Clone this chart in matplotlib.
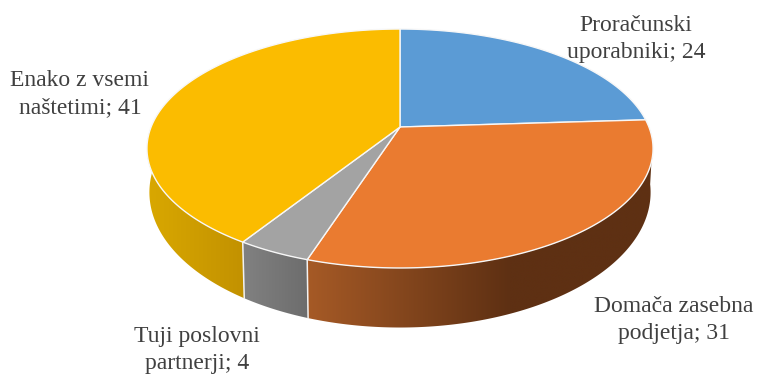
import numpy as np
import matplotlib
matplotlib.use("Agg")
import matplotlib.pyplot as plt
from matplotlib.colors import to_rgb
from matplotlib.patches import Polygon

# slices, clockwise from 12 o'clock
categories = ['Proračunski\nuporabniki', 'Domača zasebna\npodjetja', 'Tuji poslovni\npartnerji', 'Enako z vsemi\nnaštetimi']
values = [24, 31, 4, 41]
top_colors = ['#5b9bd5', '#ea7b30', '#a3a3a3', '#fbbc00']
# side wall shading: colour at the left end, colour at the right end, x where the ramp stops
wall_colors = [('#3f6e99', '#3f6e99', 660), ('#a65a26', '#5e3013', 510), ('#818181', '#6c6c6c', 310), ('#d9a800', '#c29100', 245)]
label_pos = [(636, 39), (674, 320), (197, 350), (80, 94)]

# pie geometry in pixels, K is the perspective strength
CX, CY = 400, 127
A, B, K = 248.9, 115.6, 0.18
BOTTOM_CY, BOTTOM_AX, BOTTOM_BY = 168, 246.5, 130.8


def rim(theta):
    # top rim, theta clockwise from the top in radians
    u, v = np.sin(theta), np.cos(theta)
    w = 1 + K * v
    return np.column_stack([CX + A * u / w, CY - B * v / w])


def bottom_rim(theta):
    u, v = np.sin(theta), np.cos(theta)
    w = 1 + K * v
    return np.column_stack([CX + BOTTOM_AX * u / w, BOTTOM_CY - BOTTOM_BY * v / w])


fig = plt.figure(figsize=(7.57, 3.74), dpi=100)
ax = fig.add_axes([0, 0, 1, 1])

edges = np.radians(np.cumsum([0] + values) / sum(values) * 360)
wall_start, wall_end = np.radians(97), np.radians(268)

# side walls first, the top face is drawn over them
for i in range(len(values)):
    lo, hi = max(edges[i], wall_start), min(edges[i + 1], wall_end)
    if lo >= hi:
        continue
    th = np.linspace(lo, hi, 200)
    top, bot = rim(th), bottom_rim(th)
    outline = np.vstack([top, bot[::-1]])
    x0, x1 = outline[:, 0].min(), outline[:, 0].max()
    y0, y1 = outline[:, 1].min(), outline[:, 1].max()
    c_left, c_right, x_stop = wall_colors[i]
    xs = np.linspace(x0, x1, 400)
    t = np.clip((xs - x0) / max(x_stop - x0, 1), 0, 1)[:, None]
    ramp = (np.array(to_rgb(c_left)) + (np.array(to_rgb(c_right)) - np.array(to_rgb(c_left))) * t)[None, :, :]
    im = ax.imshow(ramp, extent=(x0, x1, y1, y0), aspect='auto', interpolation='bilinear', zorder=2)
    im.set_clip_path(Polygon(outline, closed=True, transform=ax.transData))

# white seams between the walls
for e in edges:
    if wall_start < e < wall_end:
        a, b = rim([e])[0], bottom_rim([e])[0]
        ax.plot([a[0], b[0]], [a[1], b[1]], color='#f2f2f2', lw=1.1, zorder=3)

# top face
for i in range(len(values)):
    th = np.linspace(edges[i], edges[i + 1], 200)
    pts = np.vstack([[CX, CY], rim(th)])
    ax.add_patch(Polygon(pts, closed=True, facecolor=top_colors[i], edgecolor='#f7f7f7', lw=1.0, joinstyle='round', zorder=4))

for cat, val, (x, y) in zip(categories, values, label_pos):
    ax.text(x, y, f"{cat}; {val}", ha='center', va='center', family='Liberation Serif',
            fontsize=17, color='#404040', linespacing=1.4, zorder=5)

ax.set_xlim(0, 757)
ax.set_ylim(374, 0)
ax.axis('off')

fig.savefig('out.png', dpi=100)
